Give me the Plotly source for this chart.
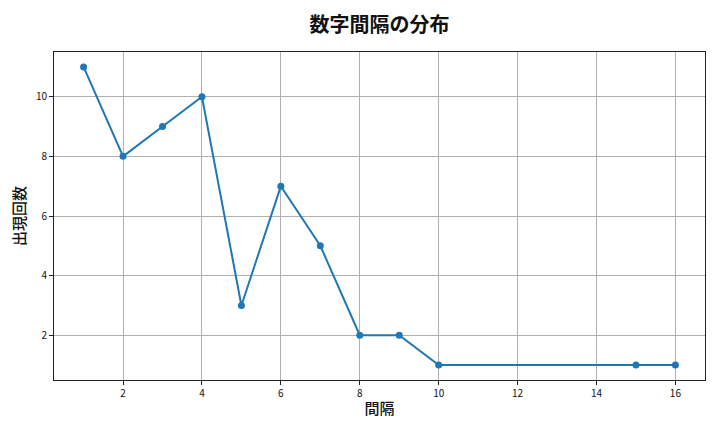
import plotly.graph_objects as go

gaps = [1, 2, 3, 4, 5, 6, 7, 8, 9, 10, 15, 16]
counts = [11, 8, 9, 10, 3, 7, 5, 2, 2, 1, 1, 1]
x_ticks = [2, 4, 6, 8, 10, 12, 14, 16]
y_ticks = [2, 4, 6, 8, 10]

FONT = "Noto Sans CJK JP"
fig = go.Figure(go.Scatter(
    x=gaps, y=counts, mode="lines+markers",
    line=dict(color="#1f77b4", width=2),
    marker=dict(color="#1f77b4", size=7),
))
axis_common = dict(
    showgrid=True, gridcolor="#b0b0b0", gridwidth=1,
    showline=True, linecolor="#222", linewidth=1, mirror=True,
    ticks="outside", ticklen=4, tickcolor="#222",
    tickfont=dict(family=FONT, size=10, color="#111"),
    zeroline=False, automargin=False,
)
fig.update_layout(
    width=720, height=432,
    paper_bgcolor="white", plot_bgcolor="white",
    margin=dict(l=46, r=23, t=44, b=60),
    showlegend=False,
    title=dict(text="数字間隔の分布", xref="paper", x=0.5, xanchor="center",
               yref="container", y=0.961, yanchor="middle",
               font=dict(family=FONT, size=20, color="#111", weight=600)),
    xaxis=dict(range=[0.25, 16.75], tickvals=x_ticks,
               title=dict(text="間隔", font=dict(family=FONT, size=15, color="#111", weight=500), standoff=4),
               **axis_common),
    yaxis=dict(range=[0.5, 11.5], tickvals=y_ticks,
               title=dict(text="出現回数", font=dict(family=FONT, size=15, color="#111", weight=500), standoff=6),
               **axis_common),
)
fig.write_html("out.html")
